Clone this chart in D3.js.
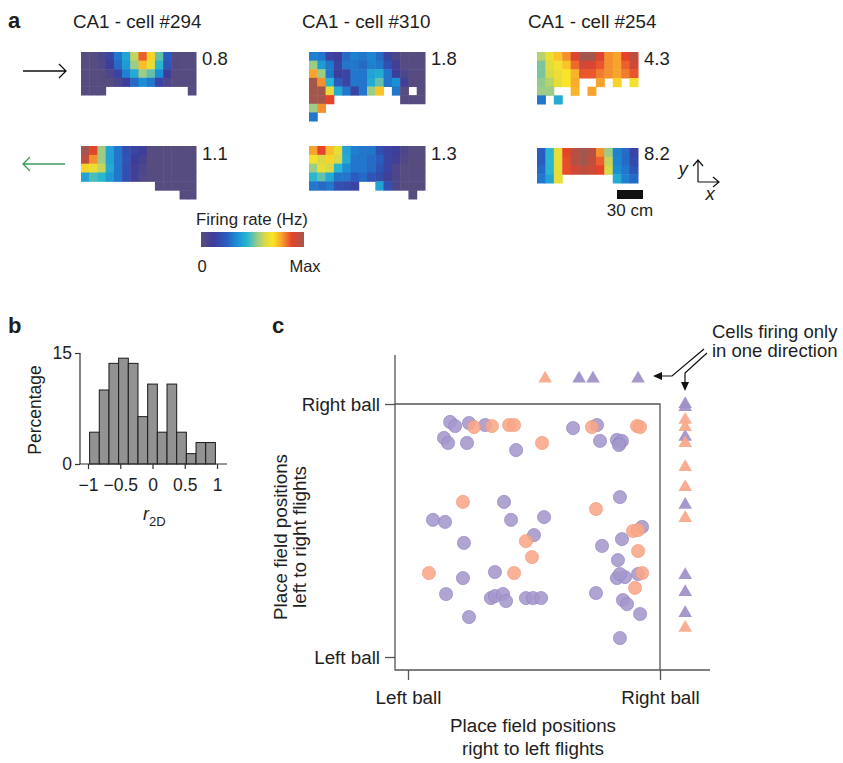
<!DOCTYPE html>
<html>
<head>
<meta charset="utf-8">
<script src="https://cdn.jsdelivr.net/npm/d3@7"></script>
<style>
  body { margin: 0; background: #fff; }
  svg { display: block; }
  text { font-family: "Liberation Sans", Arial, Helvetica, sans-serif; fill: #1e1e1e; }
</style>
</head>
<body>
<svg id="fig" width="843" height="763"></svg>
<script>
// ---------------- panel a: 2D rate maps ----------------
const cellTitles = ["CA1 - cell #294", "CA1 - cell #310", "CA1 - cell #254"];
const peakRight = ["0.8", "1.8", "4.3"];   // peak rate (Hz), left-to-right flights
const peakLeft  = ["1.1", "1.3", "8.2"];   // peak rate (Hz), right-to-left flights
const _ = null;                             // unvisited bin

// normalised firing rate per bin (0 = silent, 1 = peak)
const map294Right = [
  [0, 0, .05, .15, .30, .40, .60, .85, .72, .50, .25, 0, 0, 0],
  [0, 0, .03, .12, .28, .38, .55, .75, .65, .45, .22, .02, 0, 0],
  [0, 0, 0, .05, .15, .32, .42, .55, .50, .35, .12, 0, 0, 0],
  [0, 0, 0, 0, .05, .12, .28, .35, .30, .15, .05, 0, 0, 0],
  [0, 0, 0, _, _, _, _, _, _, _, _, _, _, 0]
];
const map294Left = [
  [1, .88, .55, .40, .30, .20, .15, .12, 0, 0, 0, 0, 0, 0],
  [.95, .80, .55, .40, .30, .22, .12, .08, 0, 0, 0, 0, 0, 0],
  [.72, .65, .60, .42, .30, .20, .10, .05, 0, 0, 0, 0, 0, 0],
  [.40, .48, .45, .38, .30, .20, .10, .03, 0, 0, 0, 0, 0, 0],
  [_, _, _, _, _, _, _, _, _, 0, 0, 0, 0, 0],
  [_, _, _, _, _, _, _, _, _, _, _, _, 0, 0]
];
const map310Right = [
  [.32, .30, .15, .12, .28, .32, .30, .33, .28, .15, .05, 0, 0, 0],
  [.55, .38, .30, .15, .30, .30, .28, .32, .30, .20, .10, 0, 0, 0],
  [.78, .55, .30, .12, .15, .30, .30, .40, .42, .30, .12, .05, 0, 0],
  [1, .80, .45, .25, .15, .30, .30, .42, .50, .30, .35, .10, 0, 0],
  [1, 1, .65, .42, .30, .15, .30, .55, .74, _, .30, 0, _, 0],
  [1, 1, .88, _, _, _, _, _, _, _, _, 0, 0, 0],
  [.55, .80, _, _, _, _, _, _, _, _, _, _, _, _],
  [.30, _, _, _, _, _, _, _, _, _, _, _, _, _]
];
const map310Left = [
  [.78, .88, .75, .65, .40, .32, .30, .30, .20, .15, .12, .05, 0, 0],
  [.68, .62, .72, .62, .42, .30, .30, .28, .25, .15, .10, .03, 0, 0],
  [.55, .65, .62, .45, .35, .30, .30, .28, .22, .15, .05, 0, 0, 0],
  [.45, .50, .42, .30, .30, .25, .28, .22, .18, .10, .05, 0, 0, 0],
  [.30, .28, .30, .20, .18, .15, _, _, .40, .20, .05, 0, 0, 0],
  [_, _, _, _, _, _, _, _, _, _, _, _, 0, _]
];
const map254Right = [
  [.58, .66, .74, .80, .90, 1, 1, .90, .80, .78, .88, .95],
  [.52, .64, .68, .74, .84, .92, .90, .86, .80, .78, .85, .92],
  [.52, .62, .66, .70, .76, .86, .86, .82, .80, .78, .82, .86],
  [.54, .58, .65, .70, .77, _, _, .78, _, .72, _, .68],
  [.55, .55, _, _, .76, _, .78, _, _, _, _, _],
  [.30, _, .42, _, _, _, _, _, _, _, _, _]
];
const map254Left = [
  [.25, .45, .65, .88, .97, 1, .97, .80, .55, .32, .28, .15],
  [.25, .45, .65, .87, .97, 1, .95, .85, .60, .33, .28, .18],
  [.28, .45, .65, .87, .92, .95, .93, .88, .62, .35, .30, .22],
  [.30, .40, .65, _, _, _, _, _, _, .42, .32, .28]
];

// colour map stops
const cmapPos = [0, .12, .25, .35, .45, .55, .63, .70, .78, .88, 1];
const cmapCol = ["#574c80", "#3d3d9a", "#2a5cbf", "#1a8fd6", "#2ab6cf", "#9ccc86",
                 "#e0db3e", "#fbe326", "#f7a42e", "#e6432b", "#a3564c"];

// ---------------- panel b: r2D histogram ----------------
const binCenters = [-0.9, -0.75, -0.6, -0.45, -0.3, -0.15, 0, 0.15, 0.3, 0.45, 0.6, 0.75, 0.9];
const binPercent = [4.3, 10.0, 13.6, 14.3, 13.6, 6.4, 10.8, 4.3, 10.8, 4.3, 1.4, 2.9, 2.9];
const histXTicks = [-1, -0.5, 0, 0.5, 1];
const histYTicks = [0, 15];

// ---------------- panel c: place-field positions ----------------
// x: right-to-left flights, y: left-to-right flights (0 = left ball, 1 = right ball)
const purpleX = [0.167, 0.187, 0.242, 0.306, 0.143, 0.159, 0.234, 0.429, 0.655, 0.750, 0.762,
  0.829, 0.841, 0.849, 0.837, 0.841, 0.381, 0.099, 0.147, 0.409, 0.540, 0.222, 0.500, 0.218,
  0.345, 0.151, 0.329, 0.345, 0.377, 0.389, 0.468, 0.496, 0.528, 0.242, 0.929, 0.770, 0.849,
  0.833, 0.829, 0.861, 0.841, 0.913, 0.746, 0.853, 0.869, 0.921, 0.841];
const purpleY = [0.929, 0.913, 0.925, 0.917, 0.866, 0.846, 0.846, 0.818, 0.905, 0.917, 0.854,
  0.858, 0.846, 0.854, 0.838, 0.632, 0.613, 0.542, 0.534, 0.542, 0.553, 0.451, 0.482, 0.312,
  0.336, 0.249, 0.233, 0.241, 0.249, 0.221, 0.233, 0.233, 0.233, 0.158, 0.514, 0.439, 0.466,
  0.383, 0.312, 0.316, 0.328, 0.328, 0.253, 0.225, 0.209, 0.170, 0.075];
const orangeX = [0.262, 0.333, 0.401, 0.421, 0.532, 0.730, 0.909, 0.921, 0.218, 0.468, 0.492,
  0.083, 0.421, 0.746, 0.893, 0.913, 0.913, 0.929, 0.901];
const orangeY = [0.909, 0.913, 0.917, 0.917, 0.846, 0.909, 0.913, 0.909, 0.613, 0.458, 0.395,
  0.332, 0.332, 0.585, 0.498, 0.502, 0.419, 0.332, 0.273];
// cells active in one direction only (placed outside the square)
const oneDirX = [0.544, 0.679, 0.734, 0.913];          // active only right-to-left
const oneDirXColor = ["o", "p", "p", "p"];
const oneDirY = [1.0, 0.988, 0.870, 0.601, 0.324, 0.257, 0.174,
                 0.937, 0.909, 0.846, 0.751, 0.672, 0.549, 0.115];  // active only left-to-right
const oneDirYColor = ["p", "p", "p", "p", "p", "p", "p", "o", "o", "o", "o", "o", "o", "o"];
const ballLabels = ["Left ball", "Right ball"];

const PURPLE = "#a597cd", ORANGE = "#f8a788";
const svg = d3.select("#fig");
const FONT = '"Liberation Sans", Arial, sans-serif';

// ---------- panel a ----------
const color = d3.scaleLinear().domain(cmapPos).range(cmapCol).clamp(true);

svg.append("text").attr("x", 8).attr("y", 28).attr("font-size", 22).attr("font-weight", "bold").text("a");
const titleX = [73, 302, 528];
cellTitles.forEach((t, i) => svg.append("text").attr("x", titleX[i]).attr("y", 28).attr("font-size", 18.8).text(t));

const maps = [
  { grid: map294Right, x: [81, 196], y: [52, 95], label: peakRight[0] },
  { grid: map294Left,  x: [81, 196], y: [146, 199], label: peakLeft[0] },
  { grid: map310Right, x: [309, 425], y: [52, 121], label: peakRight[1] },
  { grid: map310Left,  x: [309, 425], y: [146, 199], label: peakLeft[1] },
  { grid: map254Right, x: [537, 638], y: [52, 104], label: peakRight[2] },
  { grid: map254Left,  x: [537, 638], y: [148, 183], label: peakLeft[2] }
];
maps.forEach((m, k) => {
  const nr = m.grid.length, nc = m.grid[0].length;
  const xs = d3.scaleLinear().domain([0, nc]).range(m.x);
  const ys = d3.scaleLinear().domain([0, nr]).range(m.y);
  const cells = [];
  m.grid.forEach((row, r) => row.forEach((v, c) => { if (v !== null) cells.push({ r, c, v }); }));
  svg.append("g").selectAll("rect").data(cells).join("rect")
    .attr("x", d => xs(d.c)).attr("y", d => ys(d.r))
    .attr("width", xs(1) - xs(0) + 0.5).attr("height", ys(1) - ys(0) + 0.5)
    .attr("fill", d => color(d.v));
  svg.append("text").attr("x", m.x[1] + 6).attr("y", k % 2 === 0 ? 65 : 160)
    .attr("font-size", 18.5).text(m.label);
});

// flight-direction arrows
svg.append("path").attr("d", "M23,71 H66 M59,64 L66,71 L59,78")
  .attr("fill", "none").attr("stroke", "#111").attr("stroke-width", 1.3);
svg.append("path").attr("d", "M65,164 H23 M30,157 L23,164 L30,171")
  .attr("fill", "none").attr("stroke", "#3f9a5c").attr("stroke-width", 1.3);

// colour bar
const cb = { x0: 201, x1: 304, y0: 232, y1: 247 };
const grad = svg.append("defs").append("linearGradient").attr("id", "cbar");
cmapPos.forEach((p, i) => grad.append("stop").attr("offset", p).attr("stop-color", cmapCol[i]));
svg.append("rect").attr("x", cb.x0).attr("y", cb.y0).attr("width", cb.x1 - cb.x0).attr("height", cb.y1 - cb.y0)
  .attr("fill", "url(#cbar)");
svg.append("text").attr("x", 252).attr("y", 225).attr("font-size", 16.8).attr("text-anchor", "middle").text("Firing rate (Hz)");
svg.append("text").attr("x", 202).attr("y", 272).attr("font-size", 16.5).attr("text-anchor", "middle").text("0");
svg.append("text").attr("x", 305).attr("y", 272).attr("font-size", 16.5).attr("text-anchor", "middle").text("Max");

// scale bar and axes glyph
svg.append("rect").attr("x", 617).attr("y", 190).attr("width", 26).attr("height", 9).attr("fill", "#111");
svg.append("text").attr("x", 630).attr("y", 216).attr("font-size", 17).attr("text-anchor", "middle").text("30 cm");
svg.append("path").attr("d", "M698,182 V160 M693,166 L698,160 L703,166 M698,182 H719 M713,177 L719,182 L713,187")
  .attr("fill", "none").attr("stroke", "#111").attr("stroke-width", 1.2);
svg.append("text").attr("x", 683).attr("y", 175).attr("font-size", 18.5).attr("font-style", "italic").attr("text-anchor", "middle").text("y");
svg.append("text").attr("x", 710).attr("y", 200).attr("font-size", 18.5).attr("font-style", "italic").attr("text-anchor", "middle").text("x");

// ---------- panel b ----------
svg.append("text").attr("x", 8).attr("y", 333).attr("font-size", 22).attr("font-weight", "bold").text("b");
const hx = d3.scaleLinear().domain([-1, 1]).range([88, 217]);
const hy = d3.scaleLinear().domain([0, 15]).range([464, 353]);
const binW = 0.15;
svg.append("g").selectAll("rect").data(binCenters).join("rect")
  .attr("x", d => hx(d - binW / 2)).attr("width", d => hx(d + binW / 2) - hx(d - binW / 2))
  .attr("y", (d, i) => hy(binPercent[i])).attr("height", (d, i) => hy(0) - hy(binPercent[i]))
  .attr("fill", "#929292").attr("stroke", "#1a1a1a").attr("stroke-width", 1);

const hAxY = svg.append("g").attr("transform", "translate(80,0)")
  .call(d3.axisLeft(hy).tickValues(histYTicks).tickSize(5).tickPadding(3).tickSizeOuter(0));
const hAxX = svg.append("g").attr("transform", "translate(0,464)")
  .call(d3.axisBottom(hx).tickValues(histXTicks).tickSize(5).tickPadding(10).tickFormat(d3.format("")));
[hAxY, hAxX].forEach(a => {
  a.select(".domain").remove();
  a.selectAll("line").attr("stroke", "#333").attr("stroke-width", 1.2);
  a.selectAll("text").attr("font-size", 17.5).attr("fill", "#1e1e1e").style("font-family", FONT);
});
svg.append("path").attr("d", "M80,353 V464 H227").attr("fill", "none").attr("stroke", "#333").attr("stroke-width", 1.2);
svg.append("text").attr("transform", "translate(41,410) rotate(-90)").attr("font-size", 17.5)
  .attr("text-anchor", "middle").text("Percentage");
const rLab = svg.append("text").attr("x", 143).attr("y", 520).attr("font-size", 18);
rLab.append("tspan").attr("font-style", "italic").text("r");
rLab.append("tspan").attr("font-size", 13).attr("dy", 6).text("2D");

// ---------- panel c ----------
svg.append("text").attr("x", 272).attr("y", 333).attr("font-size", 22).attr("font-weight", "bold").text("c");
const cx = d3.scaleLinear().domain([0, 1]).range([408, 660]);
const cy = d3.scaleLinear().domain([0, 1]).range([657, 404]);
const axisX0 = 395, axisY0 = 670;
const stroke = "#555";
const FS_C = 18.8;

// axes
const yAx = svg.append("g").attr("transform", `translate(${axisX0},0)`)
  .call(d3.axisLeft(cy).tickValues([0, 1]).tickSize(10).tickPadding(5).tickFormat((d, i) => ballLabels[i]));
const xAx = svg.append("g").attr("transform", `translate(0,${axisY0})`)
  .call(d3.axisBottom(cx).tickValues([0, 1]).tickSize(10).tickPadding(11).tickFormat((d, i) => ballLabels[i]));
[yAx, xAx].forEach(a => {
  a.select(".domain").remove();
  a.selectAll("line").attr("stroke", stroke).attr("stroke-width", 1.3);
  a.selectAll("text").attr("font-size", FS_C).attr("fill", "#1e1e1e").style("font-family", FONT);
});
svg.append("path")
  .attr("d", `M${axisX0},355 V${axisY0} H710 M${axisX0},${cy(1)} H${cx(1)} V${axisY0}`)
  .attr("fill", "none").attr("stroke", stroke).attr("stroke-width", 1.3);

// axis titles
const yt = svg.append("text").attr("transform", "translate(287,537) rotate(-90)")
  .attr("font-size", FS_C).attr("text-anchor", "middle");
yt.append("tspan").attr("x", 0).attr("y", 0).text("Place field positions");
yt.append("tspan").attr("x", 0).attr("y", 19).text("left to right flights");
const xt = svg.append("text").attr("font-size", FS_C).attr("text-anchor", "middle");
xt.append("tspan").attr("x", 533).attr("y", 732).text("Place field positions");
xt.append("tspan").attr("x", 533).attr("y", 755).text("right to left flights");

// place fields (both directions)
const purplePts = purpleX.map((x, i) => ({ x, y: purpleY[i] }));
const orangePts = orangeX.map((x, i) => ({ x, y: orangeY[i] }));
svg.append("g").selectAll("circle").data(purplePts).join("circle")
  .attr("cx", d => cx(d.x)).attr("cy", d => cy(d.y)).attr("r", 6.6)
  .attr("fill", PURPLE).attr("fill-opacity", 0.88).attr("stroke", "#8f80bd").attr("stroke-width", 0.6);
svg.append("g").selectAll("circle").data(orangePts).join("circle")
  .attr("cx", d => cx(d.x)).attr("cy", d => cy(d.y)).attr("r", 6.6)
  .attr("fill", ORANGE).attr("fill-opacity", 0.88).attr("stroke", "#f09576").attr("stroke-width", 0.6);

// one-direction cells, shown as triangles outside the square
const tri = d3.symbol().type(d3.symbolTriangle).size(80);
const oneDirSlot = 1.1;
const triPts = oneDirX.map((x, i) => ({ x, y: oneDirSlot, c: oneDirXColor[i] }))
  .concat(oneDirY.map((y, i) => ({ x: oneDirSlot, y, c: oneDirYColor[i] })));
svg.append("g").selectAll("path").data(triPts).join("path")
  .attr("d", tri).attr("transform", d => `translate(${cx(d.x)},${cy(d.y)})`)
  .attr("fill", d => d.c === "p" ? "#9e8fc8" : ORANGE).attr("fill-opacity", 0.92);

// annotation
svg.append("text").attr("x", 712).attr("y", 338).attr("font-size", 18.5).text("Cells firing only");
svg.append("text").attr("x", 712).attr("y", 357).attr("font-size", 18.5).text("in one direction");
svg.append("path").attr("d", "M704,349 L672,376 H661 M707,353 L685,373 V383")
  .attr("fill", "none").attr("stroke", "#111").attr("stroke-width", 1.2);
svg.append("path").attr("d", "M653,376 L662,372 L662,380 Z M685,391 L681,382 L689,382 Z").attr("fill", "#111");
</script>
</body>
</html>
